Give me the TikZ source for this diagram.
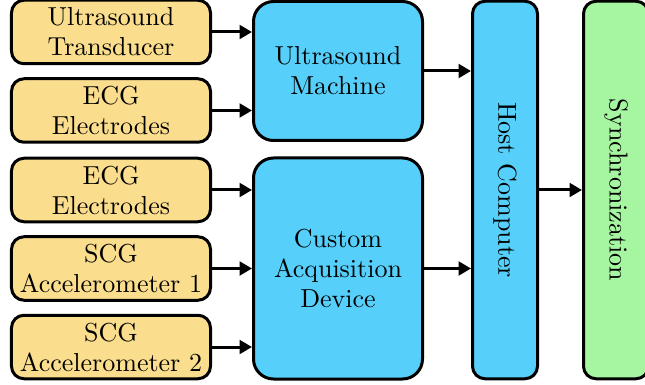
\documentclass[tikz,border=0pt]{standalone}
\usetikzlibrary{arrows.meta}

\definecolor{sensorfill}{RGB}{250,222,142}
\definecolor{devfill}{RGB}{86,208,250}
\definecolor{syncfill}{RGB}{166,245,160}

\tikzset{
  box/.style={draw=black, very thick, rounded corners=5pt, align=center, inner sep=0pt,
    font=\fontsize{10.4pt}{12pt}\selectfont},
  sensor/.style={box, fill=sensorfill, minimum width=79.6pt, minimum height=25.4pt},
  device/.style={box, fill=devfill, rounded corners=8pt, minimum width=67.6pt},
  column/.style={box, minimum width=26pt, minimum height=151pt},
  link/.style={very thick, -{Triangle[length=5pt,width=5.5pt]}}
}

\begin{document}
\begin{tikzpicture}[x=0.4pt, y=-0.4pt]
  \useasboundingbox (0,0) rectangle (645,385);

  % inputs
  \node[sensor] (trans) at (111,32) {Ultrasound\\Transducer};
  \node[sensor] (ecgA) at (111,110.5) {ECG\\Electrodes};
  \node[sensor] (ecgB) at (111,190) {ECG\\Electrodes};
  \node[sensor] (scgA) at (111,268.5) {SCG\\Accelerometer 1};
  \node[sensor] (scgB) at (111,347) {SCG\\Accelerometer 2};

  % acquisition
  \node[device, minimum height=55.6pt] (usm) at (338,71) {Ultrasound\\Machine};
  \node[device, minimum height=88.4pt] (cad) at (338,268.5) {Custom\\Acquisition\\Device};

  \node[column, fill=devfill] (host) at (505,190) {};
  \node[rotate=-90, font=\fontsize{10.4pt}{12pt}\selectfont] at (host.center) {Host Computer};
  \node[column, fill=syncfill] (sync) at (616,190) {};
  \node[rotate=-90, font=\fontsize{10.4pt}{12pt}\selectfont] at (sync.center) {Synchronization};

  \foreach \s in {trans,ecgA}
    \draw[link] (\s.east) -- (\s.east -| usm.west);
  \foreach \s in {ecgB,scgA,scgB}
    \draw[link] (\s.east) -- (\s.east -| cad.west);

  \draw[link] (usm.east) -- (usm.east -| host.west);
  \draw[link] (cad.east) -- (cad.east -| host.west);
  \draw[link] (host.east) -- (sync.west);
\end{tikzpicture}
\end{document}
